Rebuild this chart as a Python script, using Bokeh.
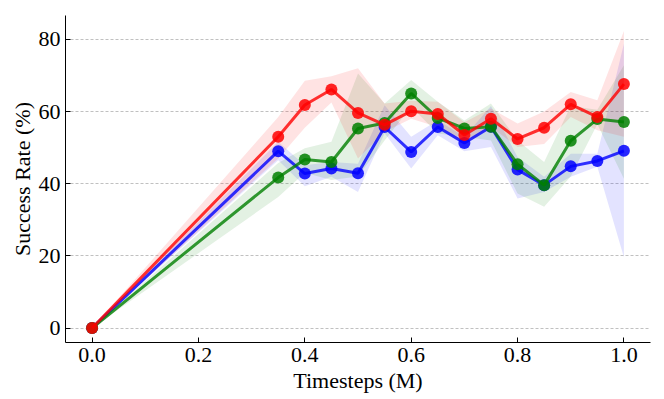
from bokeh.plotting import figure
from bokeh.embed import file_html
from bokeh.resources import INLINE
from bokeh.models import FixedTicker, PrintfTickFormatter, Spacer
from bokeh.layouts import row, column

# ---- data ----
timesteps = [0.0, 0.35, 0.4, 0.45, 0.5, 0.55, 0.6, 0.65, 0.7, 0.75, 0.8, 0.85, 0.9, 0.95, 1.0]

blue_mean = [0, 49.0, 42.8, 44.2, 42.9, 55.7, 48.8, 55.7, 51.3, 55.8, 43.9, 39.6, 44.8, 46.3, 49.1]
blue_upper = [0, 51.6, 45.1, 46.0, 45.5, 61.7, 53.0, 57.6, 53.0, 61.5, 47.4, 41.9, 48.3, 48.3, 78.8]
blue_lower = [0, 46.5, 39.3, 41.9, 37.7, 54.0, 44.2, 53.4, 49.0, 50.2, 35.9, 37.7, 41.9, 44.7, 19.6]

green_mean = [0, 41.7, 46.7, 46.0, 55.3, 56.8, 65.0, 58.2, 55.3, 55.8, 45.4, 39.6, 51.9, 57.9, 57.1]
green_upper = [0, 45.7, 49.8, 51.6, 70.5, 62.2, 68.7, 62.7, 57.5, 62.2, 52.0, 46.0, 61.5, 60.5, 72.8]
green_lower = [0, 36.3, 43.0, 41.0, 42.0, 52.0, 61.3, 53.9, 53.0, 52.0, 37.3, 33.6, 42.0, 56.5, 41.4]

red_mean = [0, 53.0, 61.8, 66.1, 59.6, 56.3, 60.1, 59.3, 53.5, 58.0, 52.4, 55.5, 62.0, 58.5, 67.6]
red_upper = [0, 58.5, 68.5, 69.8, 72.0, 62.2, 63.0, 62.7, 57.0, 60.8, 56.7, 60.0, 65.4, 63.1, 82.3]
red_lower = [0, 47.0, 55.5, 62.5, 47.0, 54.4, 58.0, 55.7, 51.0, 55.7, 50.2, 51.0, 58.5, 54.8, 53.0]

x_ticks = [0.0, 0.2, 0.4, 0.6, 0.8, 1.0]
y_ticks = [0, 20, 40, 60, 80]

FONT = "Liberation Serif"

p = figure(frame_width=585, frame_height=327, x_range=(-0.05, 1.05), y_range=(-4.0, 86.6),
           output_backend="svg", toolbar_location=None)
p.min_border_left = 0
p.min_border_top = 0
p.min_border_right = 5
p.min_border_bottom = 0
p.outline_line_color = None
p.background_fill_color = "white"
p.border_fill_color = "white"

series = [
    ("#0000ff", blue_mean, blue_upper, blue_lower),
    ("#008000", green_mean, green_upper, green_lower),
    ("#ff0000", red_mean, red_upper, red_lower),
]
for color, m, up, lo in series:
    p.varea(x=timesteps, y1=lo, y2=up, fill_color=color, fill_alpha=0.11)
for color, m, up, lo in series:
    p.line(timesteps, m, line_color=color, line_width=3, line_alpha=0.8)
    p.scatter(timesteps, m, size=12, fill_color=color, line_color=color,
              fill_alpha=0.85, line_alpha=0.0)

p.xaxis.ticker = FixedTicker(ticks=x_ticks)
p.xaxis.formatter = PrintfTickFormatter(format="%.1f")
p.yaxis.ticker = FixedTicker(ticks=y_ticks)

p.xaxis.axis_label = "Timesteps (M)"
p.yaxis.axis_label = "Success Rate (%)"
for ax in (p.xaxis, p.yaxis):
    ax.axis_label_text_font = FONT
    ax.axis_label_text_font_size = "22px"
    ax.axis_label_text_font_style = "normal"
    ax.axis_label_text_color = "black"
    ax.major_label_text_font = FONT
    ax.major_label_text_font_size = "22px"
    ax.major_label_text_color = "black"
    ax.major_tick_in = 5
    ax.major_tick_out = 0
    ax.minor_tick_line_color = None
    ax.axis_line_color = "black"
    ax.axis_line_width = 1
    ax.major_tick_line_color = "black"
p.xaxis.major_label_standoff = 5
p.xaxis.axis_label_standoff = 3
p.yaxis.major_label_standoff = 5
p.yaxis.axis_label_standoff = 1

p.xgrid.visible = False
p.ygrid.grid_line_color = "#b0b0b0"
p.ygrid.grid_line_dash = "3 2"
p.ygrid.grid_line_width = 0.8

layout = column(Spacer(height=15), row(Spacer(width=6), p))

open("out.html", "w").write(file_html(layout, INLINE))
